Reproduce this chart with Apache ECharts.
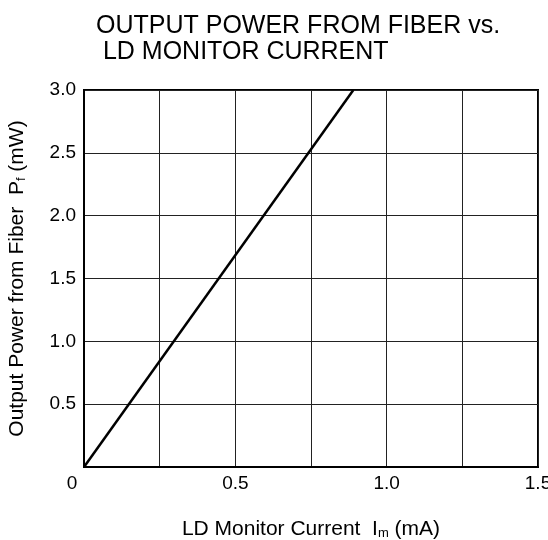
<!DOCTYPE html>
<html>
<head>
<meta charset="utf-8">
<script src="https://cdn.jsdelivr.net/npm/echarts@6/dist/echarts.min.js"></script>
<style>
  html, body { margin: 0; padding: 0; background: #fff; }
</style>
</head>
<body>
<div id="chart" style="width: 548px; height: 540px;"></div>
<script>
// LD monitor current (mA) vs output power from fiber (mW)
var currentMA = [0, 0.89]
var powerMW = [0, 3.0]
var xTicks = [0, 0.5, 1.0, 1.5]
var yTicks = [0.5, 1.0, 1.5, 2.0, 2.5, 3.0]

var font = 'Liberation Sans, Arial, sans-serif'
var chart = echarts.init(document.getElementById('chart'))

var option = {
  backgroundColor: '#fff',
  animation: false,
  title: {
    text: 'OUTPUT POWER FROM FIBER vs.\n LD MONITOR CURRENT',
    left: 91,
    top: 8,
    textStyle: {
      fontFamily: font,
      fontSize: 25,
      fontWeight: 'normal',
      color: '#000',
      lineHeight: 26
    }
  },
  grid: {
    left: 84,
    right: 10,
    top: 90,
    bottom: 73,
    outerBoundsMode: 'none',
    show: true,
    borderColor: '#000',
    borderWidth: 2
  },
  xAxis: {
    type: 'value',
    min: 0,
    max: 1.5,
    interval: 0.25,
    name: '{t|LD Monitor Current  I}{s|m}{t| (mA)}',
    nameLocation: 'middle',
    nameGap: 52,
    nameTextStyle: {
      rich: {
        t: { fontFamily: font, fontSize: 21, color: '#000' },
        s: { fontFamily: font, fontSize: 13, color: '#000', verticalAlign: 'bottom', padding: [5, 0, 0, 0] }
      }
    },
    axisLine: { show: true, lineStyle: { color: '#000', width: 2 } },
    axisTick: { show: false },
    splitLine: { show: true, lineStyle: { color: '#222', width: 1 } },
    axisLabel: {
      margin: 7,
      fontFamily: font,
      fontSize: 19,
      color: '#000',
      showMaxLabel: true,
      formatter: function (v) {
        if (v === 0) return '{z|0}'
        var hit = xTicks.some(function (t) { return Math.abs(t - v) < 1e-9 })
        return hit ? v.toFixed(1) : ''
      },
      rich: {
        z: { fontFamily: font, fontSize: 19, color: '#000', padding: [0, 24, 0, 0] }
      }
    }
  },
  yAxis: {
    type: 'value',
    min: 0,
    max: 3.0,
    interval: 0.5,
    name: '{t|Output Power from Fiber  P}{s|f}{t| (mW)}',
    nameLocation: 'middle',
    nameGap: 56,
    nameRotate: 90,
    nameTextStyle: {
      rich: {
        t: { fontFamily: font, fontSize: 21, color: '#000' },
        s: { fontFamily: font, fontSize: 13, color: '#000', verticalAlign: 'bottom', padding: [5, 0, 0, 0] }
      }
    },
    axisLine: { show: true, lineStyle: { color: '#000', width: 2 } },
    axisTick: { show: false },
    splitLine: { show: true, lineStyle: { color: '#222', width: 1 } },
    axisLabel: {
      margin: 8,
      fontFamily: font,
      fontSize: 19,
      color: '#000',
      formatter: function (v) {
        var hit = yTicks.some(function (t) { return Math.abs(t - v) < 1e-9 })
        return hit ? v.toFixed(1) : ''
      }
    }
  },
  series: [
    {
      type: 'line',
      data: currentMA.map(function (x, i) { return [x, powerMW[i]] }),
      showSymbol: false,
      lineStyle: { color: '#000', width: 2.5 },
      clip: true
    }
  ]
}

chart.setOption(option)
</script>
</body>
</html>
